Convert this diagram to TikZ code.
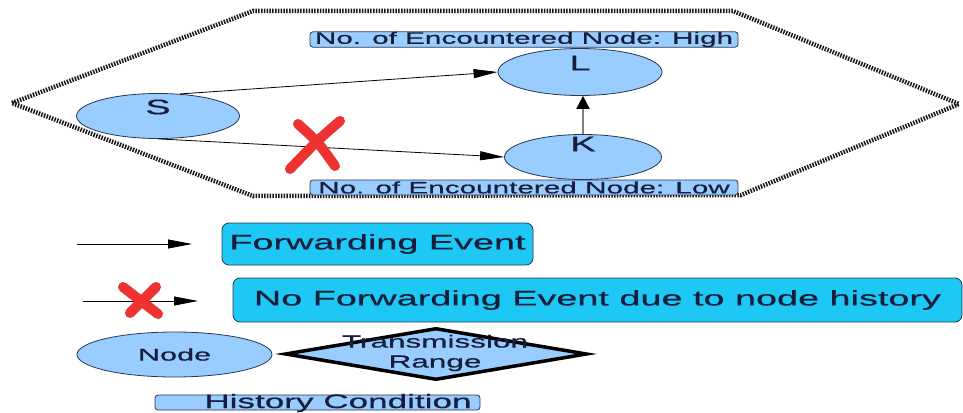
\documentclass[tikz,border=0pt]{standalone}
\usepackage{fontspec}
\setmainfont{Liberation Sans}[FakeStretch=1.8,FakeBold=0.6]
\usetikzlibrary{shapes.geometric,arrows.meta}
\definecolor{nodeblue}{RGB}{153,204,255}
\definecolor{evcyan}{RGB}{30,200,245}
\definecolor{txt}{RGB}{22,30,60}
\definecolor{xred}{RGB}{238,50,50}
\definecolor{edgec}{RGB}{40,55,80}
\begin{document}
\begin{tikzpicture}[x=1pt,y=-1pt,
  nodeell/.style={ellipse, draw=edgec, line width=0.8pt, fill=nodeblue, inner sep=0pt},
  condbox/.style={rounded corners=3pt, draw=edgec, line width=0.8pt, fill=nodeblue, inner sep=0pt, text=txt},
  evbox/.style={rounded corners=7pt, draw=edgec, line width=0.8pt, fill=evcyan, inner sep=0pt, text=txt},
  lbl/.style={text=txt, inner sep=0pt},
  fwd/.style={line width=0.8pt, -{Triangle[length=24pt,width=9pt]}},
  cross/.style={xred, line width=10pt, line cap=round},
  hexline/.style={draw=black!90, line width=4.5pt, dash pattern=on 1.5pt off 1.3pt},
  rangeshape/.style={diamond, draw=black, line width=3.5pt, fill=nodeblue, inner sep=0pt}
]
\useasboundingbox (0,0) rectangle (963,412);
\fill[white] (0,0) rectangle (963,412);

% transmission range (hexagon)
\draw[hexline] (12,103) -- (253,11) -- (733,11) -- (959,104) -- (741,195) -- (253,196) -- cycle;

% history conditions
\node[condbox, minimum width=428pt, minimum height=15pt, font=\fontsize{16.5}{16.5}\selectfont] (high) at (524,39.5) {No. of Encountered Node: High};
\node[condbox, minimum width=428pt, minimum height=15pt, font=\fontsize{16.5}{16.5}\selectfont] (low) at (524,187.5) {No. of Encountered Node: Low};

% nodes
\node[nodeell, minimum width=163pt, minimum height=45pt] (S) at (158,116) {};
\node[lbl, font=\fontsize{21}{21}\selectfont] (Stxt) at (158,107) {S};
\node[nodeell, minimum width=164pt, minimum height=47pt] (L) at (580,72) {};
\node[lbl, font=\fontsize{21}{21}\selectfont] (Ltxt) at (580,63) {L};
\node[nodeell, minimum width=157pt, minimum height=45pt] (K) at (583,157) {};
\node[lbl, font=\fontsize{21}{21}\selectfont] (Ktxt) at (583,144) {K};

% connectors
\draw[fwd] (S.45) -- (L.west);
\draw[fwd] (S.south) -- (K.west);
\draw[line width=2pt, draw=gray, -{Triangle[length=13pt,width=13pt,color=black]}] (K.north) -- (K.north |- L.south);

% red cross on S->K
\draw[cross] (340,121) .. controls (318,140) .. (290,169);
\draw[cross] (298,124) .. controls (318,142) .. (335,166);

% legend
\coordinate (a1s) at (77,244);
\coordinate (a1e) at (192,244);
\draw[fwd] (a1s) -- (a1e);
\node[evbox, minimum width=311pt, minimum height=42pt, font=\fontsize{21}{21}\selectfont] (fe) at (377.5,244) {Forwarding Event};

\coordinate (a2s) at (83,301);
\coordinate (a2e) at (198,301);
\draw[fwd] (a2s) -- (a2e);
\draw[cross] (123,287) -- (158,314);
\draw[cross] (156,287) -- (130,313);
\node[evbox, minimum width=729pt, minimum height=44pt, font=\fontsize{21}{21}\selectfont] (nfe) at (597.5,300) {No Forwarding Event due to node history};

\node[nodeell, minimum width=195pt, minimum height=45pt, font=\fontsize{17}{17}\selectfont, text=txt] (legnode) at (174.5,354.5) {Node};

\node[rangeshape, minimum width=302pt, minimum height=52pt] (range) at (436,354) {};
\node[lbl, align=center, font=\fontsize{17.5}{20}\selectfont] (rangetxt) at (435,353) {Transmission\\Range};

\node[condbox, minimum width=325pt, minimum height=15pt] (hist) at (317.5,402.5) {};
\node[lbl, font=\fontsize{19.5}{19.5}\selectfont] (histtxt) at (338,403) {History Condition};
\end{tikzpicture}
\end{document}
